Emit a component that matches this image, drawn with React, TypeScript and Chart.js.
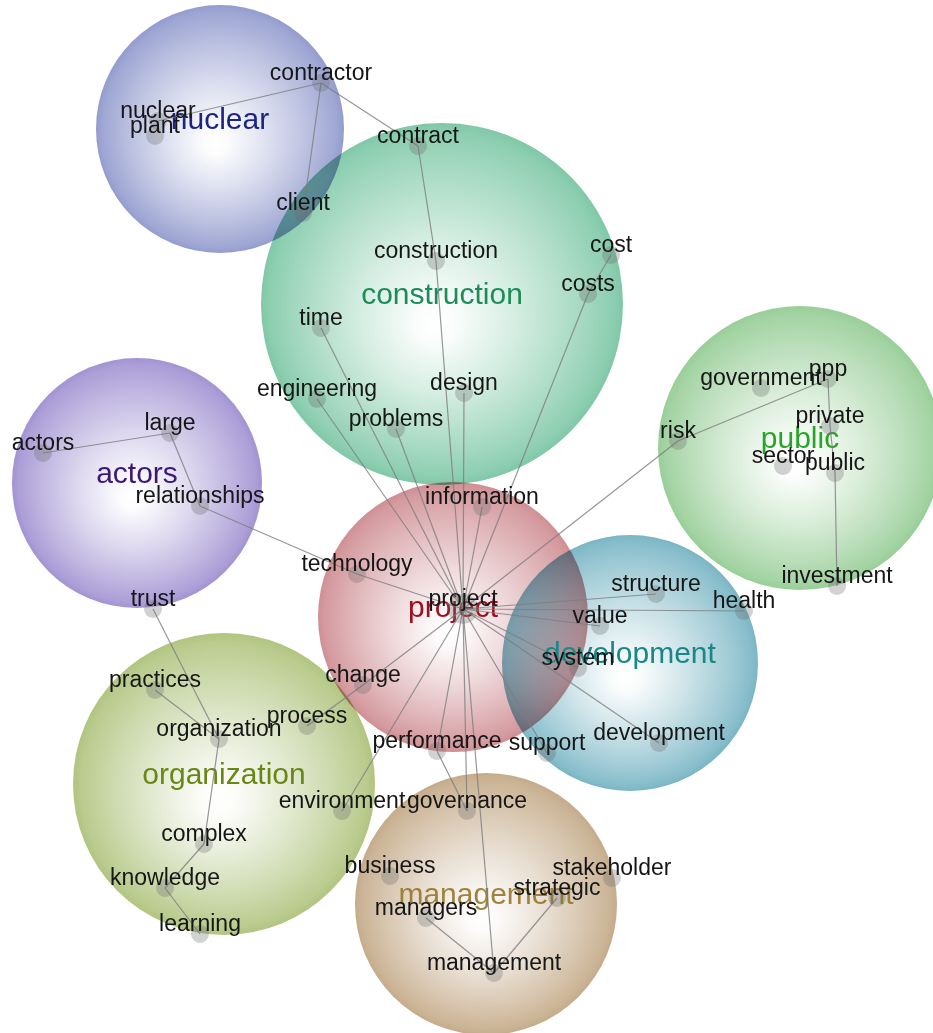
import React, { useEffect, useRef } from "react";
import { Chart, registerables } from "chart.js";

Chart.register(...registerables);

// ---- Themes (circles) ----
const themeNames = ["nuclear", "construction", "public", "actors", "project", "development", "organization", "management"];
const themeX = [220, 442, 800, 137, 453, 630, 224, 486];
const themeY = [129, 304, 448, 483, 617, 663, 784, 904];
const themeR = [124, 181, 142, 125, 135, 128, 151, 131];
const themeRim = [
  [142, 152, 204],
  [122, 198, 163],
  [148, 204, 148],
  [158, 142, 208],
  [205, 138, 143],
  [116, 178, 194],
  [174, 194, 122],
  [194, 168, 133],
];
const themeTitleColor = [
  "rgb(28,38,130)",
  "rgb(28,140,88)",
  "rgb(40,165,40)",
  "rgb(60,25,120)",
  "rgb(160,15,30)",
  "rgb(25,135,135)",
  "rgb(105,135,20)",
  "rgba(150,118,40,0.9)",
];

// ---- Concepts (nodes) ----
const conceptNames = [
  "nuclear", "plant", "contractor", "client",
  "contract", "construction", "cost", "costs", "time", "engineering", "design", "problems",
  "information", "technology", "project", "change", "performance", "support",
  "structure", "health", "value", "system", "development",
  "government", "ppp", "private", "risk", "sector", "public", "investment",
  "actors", "large", "relationships", "trust",
  "practices", "organization", "process", "complex", "knowledge", "learning", "environment",
  "governance", "business", "stakeholder", "strategic", "managers", "management",
];
const conceptX = [
  158, 155, 321, 303,
  418, 436, 611, 588, 321, 317, 464, 396,
  482, 357, 463, 363, 437, 547,
  656, 744, 600, 578, 659,
  761, 828, 830, 678, 783, 835, 837,
  43, 170, 200, 153,
  155, 219, 307, 204, 165, 200, 342,
  467, 390, 612, 557, 426, 494,
];
const conceptY = [
  121, 136, 83, 213,
  146, 261, 255, 294, 328, 399, 393, 429,
  507, 574, 609, 685, 751, 753,
  594, 611, 626, 668, 743,
  388, 379, 426, 441, 466, 473, 586,
  453, 433, 506, 609,
  690, 739, 726, 844, 888, 934, 811,
  811, 876, 878, 898, 918, 973,
];

// ---- Links ----
const edgeFrom = [
  "contractor", "contractor", "contractor", "contract", "construction", "cost", "costs",
  "time", "engineering", "problems", "design", "information",
  "relationships", "technology", "actors", "large", "trust", "practices", "organization",
  "complex", "knowledge", "process", "change", "environment", "performance", "governance",
  "performance", "management", "management", "management", "support", "development",
  "system", "value", "structure", "health", "risk", "risk", "ppp", "private", "public",
];
const edgeTo = [
  "nuclear", "client", "contract", "construction", "project", "costs", "project",
  "project", "project", "project", "project", "project",
  "technology", "project", "large", "relationships", "organization", "organization", "complex",
  "knowledge", "learning", "change", "project", "project", "project", "project",
  "governance", "project", "managers", "strategic", "project", "project",
  "project", "project", "project", "project", "project", "ppp", "private", "public", "investment",
];

const LABEL_FONT = '23px "Liberation Sans", Arial, sans-serif';
const TITLE_FONT = '30px "Liberation Sans", Arial, sans-serif';

function mix(c: number[], t: number, a = 1) {
  const r = Math.round(255 + (c[0] - 255) * t);
  const g = Math.round(255 + (c[1] - 255) * t);
  const b = Math.round(255 + (c[2] - 255) * t);
  return `rgba(${r},${g},${b},${a})`;
}

function idx(name: string) {
  return conceptNames.indexOf(name);
}

export default function App() {
  const ref = useRef<HTMLCanvasElement | null>(null);

  useEffect(() => {
    document.body.style.margin = "0";
    const canvas = ref.current;
    if (!canvas) return;

    const overlayPlugin = {
      id: "conceptMap",
      beforeDraw(chart: any) {
        const ctx = chart.ctx;
        ctx.save();
        ctx.fillStyle = "#ffffff";
        ctx.fillRect(0, 0, chart.width, chart.height);
        ctx.restore();
      },
      beforeDatasetDraw(chart: any, args: any) {
        if (args.index === 0) {
          chart.ctx.save();
          chart.ctx.globalCompositeOperation = "multiply";
        }
      },
      afterDatasetDraw(chart: any, args: any) {
        if (args.index === 0) {
          chart.ctx.restore();
          const ctx = chart.ctx;
          const xs = chart.scales.x;
          const ys = chart.scales.y;
          ctx.save();
          ctx.font = TITLE_FONT;
          ctx.textAlign = "center";
          ctx.textBaseline = "middle";
          themeNames.forEach((n, i) => {
            ctx.fillStyle = themeTitleColor[i];
            ctx.fillText(n, xs.getPixelForValue(themeX[i]), ys.getPixelForValue(themeY[i]) - 8);
          });
          ctx.restore();
        }
      },
      afterDatasetsDraw(chart: any) {
        const ctx = chart.ctx;
        const xs = chart.scales.x;
        const ys = chart.scales.y;
        ctx.save();
        ctx.font = LABEL_FONT;
        ctx.textAlign = "center";
        ctx.textBaseline = "alphabetic";
        ctx.fillStyle = "rgb(22,22,22)";
        conceptNames.forEach((n, i) => {
          ctx.fillText(n, xs.getPixelForValue(conceptX[i]), ys.getPixelForValue(conceptY[i]) - 3);
        });
        ctx.restore();
      },
    };

    const themeData = themeNames.map((n, i) => ({ x: themeX[i], y: themeY[i], r: themeR[i] }));

    const edgeDatasets = edgeFrom.map((f, k) => {
      const a = idx(f);
      const b = idx(edgeTo[k]);
      return {
        type: "line" as const,
        label: f + "-" + edgeTo[k],
        data: [
          { x: conceptX[a], y: conceptY[a] },
          { x: conceptX[b], y: conceptY[b] },
        ],
        borderColor: "rgba(125,125,125,0.8)",
        borderWidth: 1.2,
        pointRadius: 0,
        fill: false,
        tension: 0,
        clip: false,
        order: 5,
      };
    });

    const chart = new Chart(canvas, {
      type: "scatter",
      data: {
        datasets: [
          {
            type: "bubble" as const,
            label: "themes",
            data: themeData,
            borderWidth: 0,
            clip: false,
            order: 10,
            backgroundColor: (c: any) => {
              if (c.type !== "data" || !c.raw) return "rgba(0,0,0,0)";
              const i = c.dataIndex;
              const ch = c.chart;
              const col = themeRim[i];
              const cx = ch.scales.x.getPixelForValue(c.raw.x);
              const cy = ch.scales.y.getPixelForValue(c.raw.y);
              const r = c.raw.r;
              if (!isFinite(cx) || !isFinite(cy)) return mix(col, 0.6);
              const g = ch.ctx.createRadialGradient(cx - r * 0.04, cy + r * 0.12, 0, cx, cy, r);
              g.addColorStop(0, "rgba(255,255,255,1)");
              g.addColorStop(0.1, mix(col, 0.03));
              g.addColorStop(0.45, mix(col, 0.34));
              g.addColorStop(0.75, mix(col, 0.64));
              g.addColorStop(0.95, mix(col, 0.86));
              g.addColorStop(1, mix(col, 0.96));
              return g;
            },
          } as any,
          ...edgeDatasets,
          {
            type: "scatter" as const,
            label: "concepts",
            data: conceptNames.map((n, i) => ({ x: conceptX[i], y: conceptY[i] })),
            pointRadius: conceptNames.map((n) => (n === "project" ? 15 : 9)),
            backgroundColor: "rgba(105,105,105,0.3)",
            borderWidth: 0,
            clip: false,
            order: 1,
          } as any,
        ],
      },
      options: {
        responsive: false,
        maintainAspectRatio: false,
        animation: false,
        events: [],
        layout: { padding: 0, autoPadding: false },
        plugins: { legend: { display: false }, tooltip: { enabled: false } },
        scales: {
          x: { type: "linear", min: 0, max: 933, display: false },
          y: { type: "linear", min: 0, max: 1033, reverse: true, display: false },
        },
      },
      plugins: [overlayPlugin],
    } as any);

    return () => chart.destroy();
  }, []);

  return (
    <div style={{ width: 933, height: 1033, position: "relative" }}>
      <canvas ref={ref} width={933} height={1033} style={{ width: 933, height: 1033, display: "block" }} />
    </div>
  );
}
